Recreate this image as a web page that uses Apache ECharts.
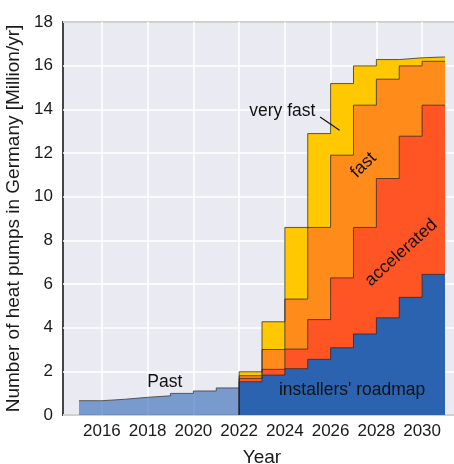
<!DOCTYPE html>
<html>
<head>
<meta charset="utf-8">
<script src="https://cdn.jsdelivr.net/npm/echarts@6/dist/echarts.min.js"></script>
<style>
  html, body { margin: 0; padding: 0; background: #fff; }
  #main { width: 454px; height: 464px; }
</style>
</head>
<body>
<div id="main"></div>
<script>
// heat pump scenarios, Million/yr
var pastYears = [2015, 2016, 2017, 2018, 2019, 2020, 2021];
var pastVals = [0.655, 0.72, 0.81, 0.88, 0.99, 1.10, 1.24];

var futYears = [2022, 2023, 2024, 2025, 2026, 2027, 2028, 2029, 2030];
var roadmapVals = [1.52, 1.83, 2.12, 2.55, 3.08, 3.71, 4.45, 5.39, 6.44];
var acceleratedVals = [1.68, 2.09, 3.02, 4.37, 6.28, 8.59, 10.83, 12.77, 14.19];
var fastVals = [1.80, 3.00, 5.31, 8.59, 11.90, 14.19, 15.38, 15.99, 16.20];
var veryFastVals = [1.98, 4.27, 8.59, 12.89, 15.18, 15.99, 16.28, 16.36, 16.40];

var xTicks = [2016, 2018, 2020, 2022, 2024, 2026, 2028, 2030];

// each value holds for one year -> step line with closing point
function stepData(years, vals) {
  var d = [[years[0], 0]];
  for (var i = 0; i < years.length; i++) d.push([years[i], vals[i]]);
  d.push([years[years.length - 1] + 1, vals[vals.length - 1]]);
  return d;
}

function stepSeries(name, years, vals, color) {
  return {
    name: name,
    type: 'line',
    step: 'end',
    symbol: 'none',
    data: stepData(years, vals),
    lineStyle: { color: 'rgba(40,40,40,0.75)', width: 1 },
    areaStyle: { color: color, opacity: 1 },
    silent: true
  };
}

var myChart = echarts.init(document.getElementById('main'));
var fontFam = 'Liberation Sans, Arial, sans-serif';

var option = {
  animation: false,
  textStyle: { fontFamily: fontFam },
  grid: {
    left: 63, top: 22, width: 398, height: 393,
    outerBoundsMode: 'none',
    containLabel: false,
    show: true,
    backgroundColor: '#eaeaf2',
    borderColor: '#444',
    borderWidth: 2
  },
  xAxis: {
    type: 'value',
    min: 2014.3,
    max: 2031.7,
    name: 'Year',
    nameLocation: 'middle',
    nameGap: 33,
    nameTextStyle: { fontSize: 19, color: '#1a1a1a', fontFamily: fontFam },
    axisLine: { show: false },
    axisTick: { show: false, customValues: xTicks },
    axisLabel: {
      customValues: xTicks,
      fontSize: 17, color: '#1a1a1a', margin: 8,
      formatter: function (v) { return String(v); }
    },
    splitLine: { show: true, lineStyle: { color: '#fff', width: 1.5 } }
  },
  yAxis: {
    type: 'value',
    min: 0,
    max: 18,
    interval: 2,
    name: 'Number of heat pumps in Germany [Million/yr]',
    nameLocation: 'middle',
    nameGap: 34,
    nameTextStyle: { fontSize: 19, color: '#1a1a1a', fontFamily: fontFam },
    axisLine: { show: false },
    axisTick: { show: false },
    axisLabel: { fontSize: 17, color: '#1a1a1a', margin: 10 },
    splitLine: { show: true, lineStyle: { color: '#fff', width: 1.5 } }
  },
  series: [
    {
      name: 'Past',
      type: 'line',
      step: 'end',
      symbol: 'none',
      data: stepData(pastYears, pastVals).slice(1),
      lineStyle: { color: 'rgba(60,60,60,0.8)', width: 1 },
      areaStyle: { color: 'rgba(45,100,180,0.6)', opacity: 1 },
      silent: true
    },
    stepSeries('very fast', futYears, veryFastVals, '#ffc800'),
    stepSeries('fast', futYears, fastVals, '#ff8c1a'),
    stepSeries('accelerated', futYears, acceleratedVals, '#ff5424'),
    stepSeries("installers' roadmap", futYears, roadmapVals, '#2c63b0')
  ]
};
myChart.setOption(option);

// text labels placed in data coordinates
function px(x, y) { return myChart.convertToPixel({ gridIndex: 0 }, [x, y]); }
function label(text, x, y, rot) {
  var p = px(x, y);
  return {
    type: 'text', x: p[0], y: p[1], rotation: (rot || 0) * Math.PI / 180, z: 100,
    style: {
      text: text, fontSize: 17.5, fontFamily: fontFam, fill: '#111',
      align: 'center', verticalAlign: 'middle'
    }
  };
}
var l1 = px(2025.54, 13.65), l2 = px(2026.39, 13.04);
myChart.setOption({
  graphic: [
    label('very fast', 2023.89, 13.9),
    label('fast', 2027.44, 11.44, 44),
    label('accelerated', 2029.08, 7.43, 42),
    label("installers' roadmap", 2026.94, 1.14),
    label('Past', 2018.75, 1.5),
    {
      type: 'line', z: 100,
      shape: { x1: l1[0], y1: l1[1], x2: l2[0], y2: l2[1] },
      style: { stroke: '#111', lineWidth: 1.2 }
    }
  ]
});
</script>
</body>
</html>
